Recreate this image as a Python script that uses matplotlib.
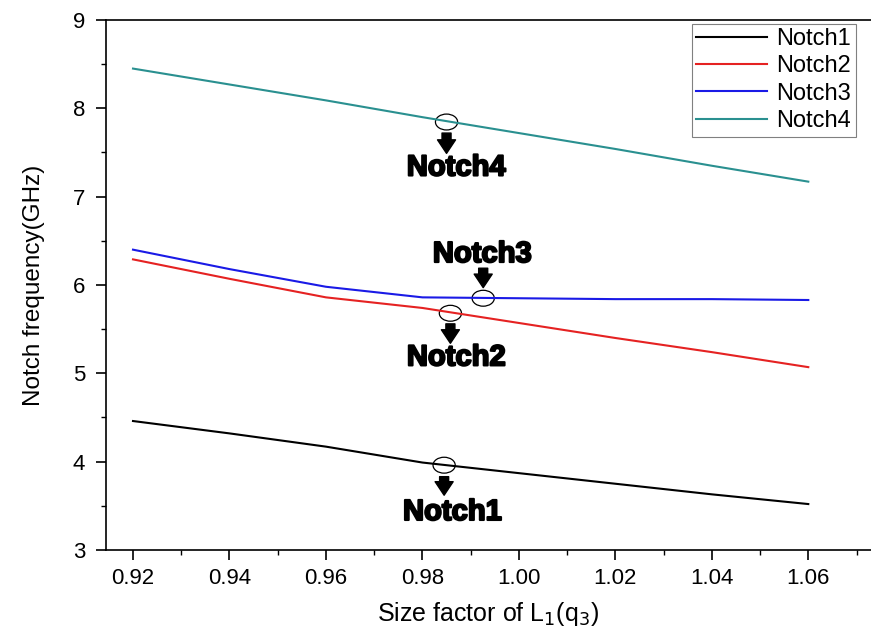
import matplotlib.pyplot as plt
from matplotlib.patches import Ellipse
from matplotlib.ticker import MultipleLocator
import matplotlib.patheffects as pe

plt.rcParams['font.family'] = ['Liberation Sans', 'DejaVu Sans']

# size factor of L1(q3)
size_factor = [0.92, 0.94, 0.96, 0.98, 1.00, 1.02, 1.04, 1.06]

# notch frequencies (GHz)
notch1 = [4.46, 4.32, 4.17, 3.99, 3.87, 3.75, 3.63, 3.52]
notch2 = [6.29, 6.07, 5.86, 5.74, 5.57, 5.40, 5.24, 5.07]
notch3 = [6.40, 6.18, 5.98, 5.86, 5.85, 5.84, 5.84, 5.83]
notch4 = [8.45, 8.27, 8.09, 7.90, 7.72, 7.54, 7.35, 7.17]

series = [("Notch1", notch1, "black"),
          ("Notch2", notch2, "#e52222"),
          ("Notch3", notch3, "#1a1ae6"),
          ("Notch4", notch4, "#2a9090")]

# annotation marks: (label, circle center, arrow start y, arrow end y, text pos)
marks = [("Notch4", (0.9850, 7.845), 7.72, 7.49, (0.9870, 7.33)),
         ("Notch3", (0.9926, 5.850), 6.19, 5.97, (0.9924, 6.35)),
         ("Notch2", (0.9858, 5.680), 5.56, 5.34, (0.9870, 5.18)),
         ("Notch1", (0.9845, 3.960), 3.83, 3.62, (0.9862, 3.43))]

fig = plt.figure(figsize=(8.71, 6.39), dpi=100)
ax = fig.add_axes([0.1217, 0.1393, 0.8783, 0.8294])

for name, vals, col in series:
    ax.plot(size_factor, vals, color=col, linewidth=1.5, label=name)

for name, (cx, cy), y0, y1, (tx, ty) in marks:
    ax.add_patch(Ellipse((cx, cy), 0.0046, 0.18, fill=False,
                         edgecolor="black", linewidth=0.9))
    ax.annotate("", xy=(cx, y1), xytext=(cx, y0),
                arrowprops=dict(arrowstyle="simple,head_width=1.0,head_length=0.75,tail_width=0.5",
                                color="black", shrinkA=0, shrinkB=0,
                                mutation_scale=13))
    ax.text(tx, ty, name, ha="center", va="center", fontsize=21,
            fontweight="bold",
            path_effects=[pe.withStroke(linewidth=1.5, foreground="black")])

ax.set_xlim(0.9144, 1.073)
ax.set_ylim(3, 9)
ax.xaxis.set_major_locator(MultipleLocator(0.02))
ax.xaxis.set_minor_locator(MultipleLocator(0.01))
ax.yaxis.set_major_locator(MultipleLocator(1))
ax.yaxis.set_minor_locator(MultipleLocator(0.5))
ax.xaxis.set_major_formatter(plt.FuncFormatter(lambda v, p: f"{v:.2f}"))
ax.tick_params(which="major", direction="out", length=7, width=1.2, labelsize=16)
ax.tick_params(axis="x", which="major", pad=6)
ax.tick_params(axis="y", which="major", pad=8)
ax.tick_params(which="minor", direction="out", length=3.5, width=1.0)
ax.spines["right"].set_visible(False)
for s in ["left", "bottom", "top"]:
    ax.spines[s].set_linewidth(1.2)

ax.set_xlabel("Size factor of L$_1$(q$_3$)", fontsize=18, labelpad=8)
ax.set_ylabel("Notch frequency(GHz)", fontsize=17.5, labelpad=20)

leg = ax.legend(loc="upper right", bbox_to_anchor=(0.985, 1.0), fontsize=17,
                fancybox=False, framealpha=1, edgecolor="gray",
                handlelength=3.0, handletextpad=0.4, borderpad=0.2,
                labelspacing=0.22, borderaxespad=0.15)
leg.get_frame().set_linewidth(0.8)

fig.savefig("out.png", dpi=100)
